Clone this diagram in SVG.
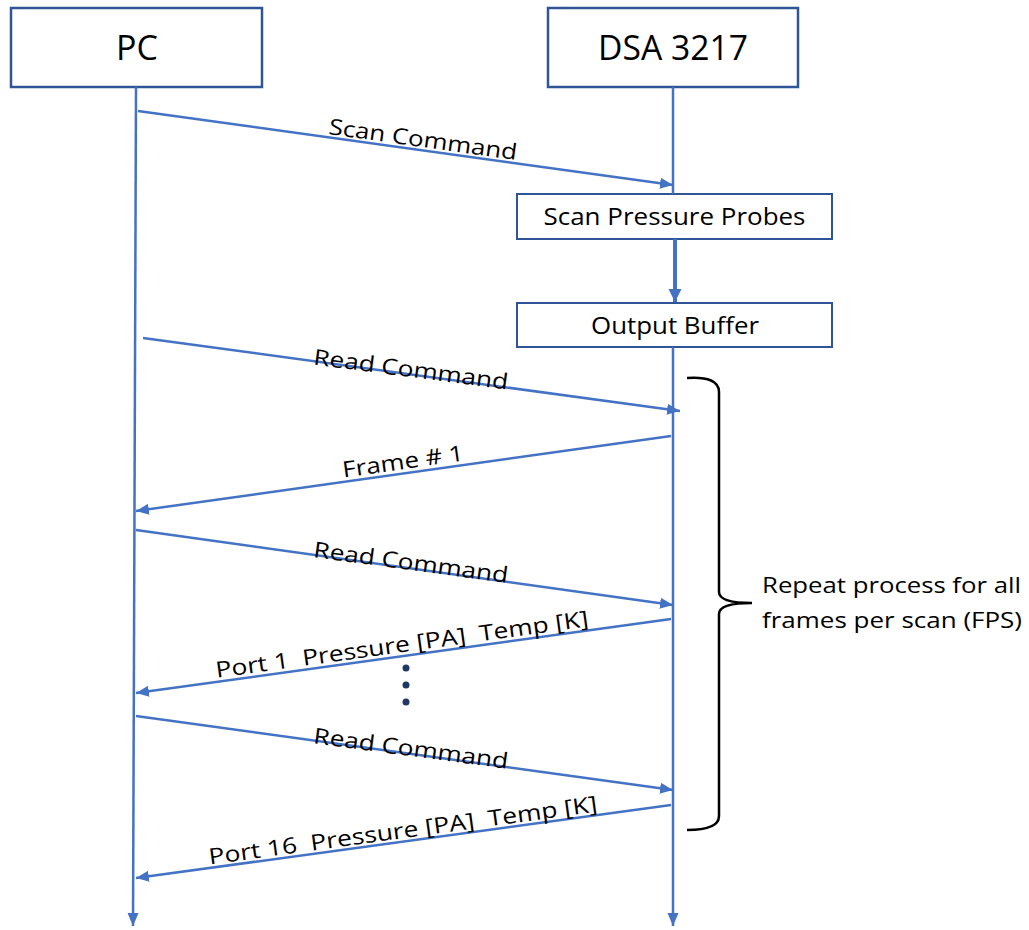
<svg xmlns="http://www.w3.org/2000/svg" width="1029" height="930" viewBox="0 0 1029 930">
<style>
.box{fill:#fff;stroke:#2F5597;stroke-width:2.5}
.sbox{fill:#fff;stroke:#2F5597;stroke-width:2}
.ln{stroke:#4472C4;stroke-width:2.5;fill:none}
.msg{stroke:#4472C4;stroke-width:2.5;fill:none;marker-end:url(#ah)}
.t{font-family:"Open Sans","Noto Sans","Liberation Sans",sans-serif;fill:#000}
.lbl{font-size:22px;text-anchor:middle}
</style>
<defs>
<marker id="ah" markerUnits="userSpaceOnUse" markerWidth="14" markerHeight="12" refX="13" refY="5.5" orient="auto">
<path d="M0,0 L13,5.5 L0,11 z" fill="#4472C4"/>
</marker>
<marker id="ahb" markerUnits="userSpaceOnUse" markerWidth="14" markerHeight="14" refX="13" refY="6.5" orient="auto">
<path d="M0,0 L13,6.5 L0,13 z" fill="#4472C4"/>
</marker>
</defs>

<g id="node-pc">
<rect class="box" x="11" y="8" width="251" height="79"/>
<text class="t" x="137" y="60" font-size="34" text-anchor="middle">PC</text>
</g>
<g id="node-dsa">
<rect class="box" x="548" y="8" width="250" height="79"/>
<text class="t" x="673" y="60" font-size="34" text-anchor="middle" textLength="150" lengthAdjust="spacingAndGlyphs">DSA 3217</text>
</g>
<g id="node-scan">
<rect class="sbox" x="517" y="194" width="315" height="45"/>
<text class="t" x="674.5" y="225" font-size="23" text-anchor="middle" textLength="262" lengthAdjust="spacingAndGlyphs">Scan Pressure Probes</text>
</g>
<g id="node-buffer">
<rect class="sbox" x="517" y="303" width="315" height="44"/>
<text class="t" x="675" y="334" font-size="23" text-anchor="middle" textLength="168" lengthAdjust="spacingAndGlyphs">Output Buffer</text>
</g>

<g id="connectors">
<line class="ln" x1="136" y1="87" x2="133" y2="926" marker-end="url(#ah)"/>
<line class="ln" x1="673" y1="87" x2="673" y2="194"/>
<line class="ln" x1="673" y1="347" x2="673" y2="926" marker-end="url(#ah)"/>
<line x1="675" y1="239" x2="675" y2="302" stroke="#4472C4" stroke-width="4" marker-end="url(#ahb)"/>
<line class="msg" x1="138" y1="111" x2="673" y2="185"/>
<line class="msg" x1="143" y1="338" x2="680" y2="411"/>
<line class="msg" x1="671" y1="436" x2="136" y2="511"/>
<line class="msg" x1="136" y1="530" x2="673" y2="605"/>
<line class="msg" x1="671" y1="619" x2="136" y2="693"/>
<line class="msg" x1="136" y1="716" x2="673" y2="790"/>
<line class="msg" x1="671" y1="805" x2="136" y2="878"/>
</g>

<g id="labels">
<text class="t lbl" x="422" y="147" transform="rotate(7.9 422 147)" textLength="190" lengthAdjust="spacingAndGlyphs">Scan Command</text>
<text class="t lbl" x="410" y="377" transform="rotate(7.4 410 377)" textLength="196" lengthAdjust="spacingAndGlyphs">Read Command</text>
<text class="t lbl" x="404" y="469" transform="rotate(-8 404 469)" textLength="122" lengthAdjust="spacingAndGlyphs">Frame # 1</text>
<text class="t lbl" x="410" y="570" transform="rotate(7.6 410 570)" textLength="196" lengthAdjust="spacingAndGlyphs">Read Command</text>
<text class="t lbl" x="403" y="652" transform="rotate(-7.9 403 652)" textLength="376" lengthAdjust="spacingAndGlyphs" xml:space="preserve">Port 1  Pressure [PA]  Temp [K]</text>
<text class="t lbl" x="410" y="756" transform="rotate(7.5 410 756)" textLength="196" lengthAdjust="spacingAndGlyphs">Read Command</text>
<text class="t lbl" x="404" y="838" transform="rotate(-7.8 404 838)" textLength="392" lengthAdjust="spacingAndGlyphs" xml:space="preserve">Port 16  Pressure [PA]  Temp [K]</text>
</g>

<g id="dots" fill="#1F3864">
<circle cx="406" cy="668" r="3.5"/>
<circle cx="406" cy="685" r="3.5"/>
<circle cx="406" cy="702" r="3.5"/>
</g>

<g id="repeat-brace">
<path d="M687,378 Q719,376 719,392 L719,592 Q719,603 752,603 Q719,603 719,614 L719,816 Q719,830 687,830" fill="none" stroke="#000" stroke-width="2.5"/>
<text class="t" x="762" y="593" font-size="22" textLength="259" lengthAdjust="spacingAndGlyphs">Repeat process for all</text>
<text class="t" x="762" y="628" font-size="22" textLength="260" lengthAdjust="spacingAndGlyphs">frames per scan (FPS)</text>
</g>
</svg>
